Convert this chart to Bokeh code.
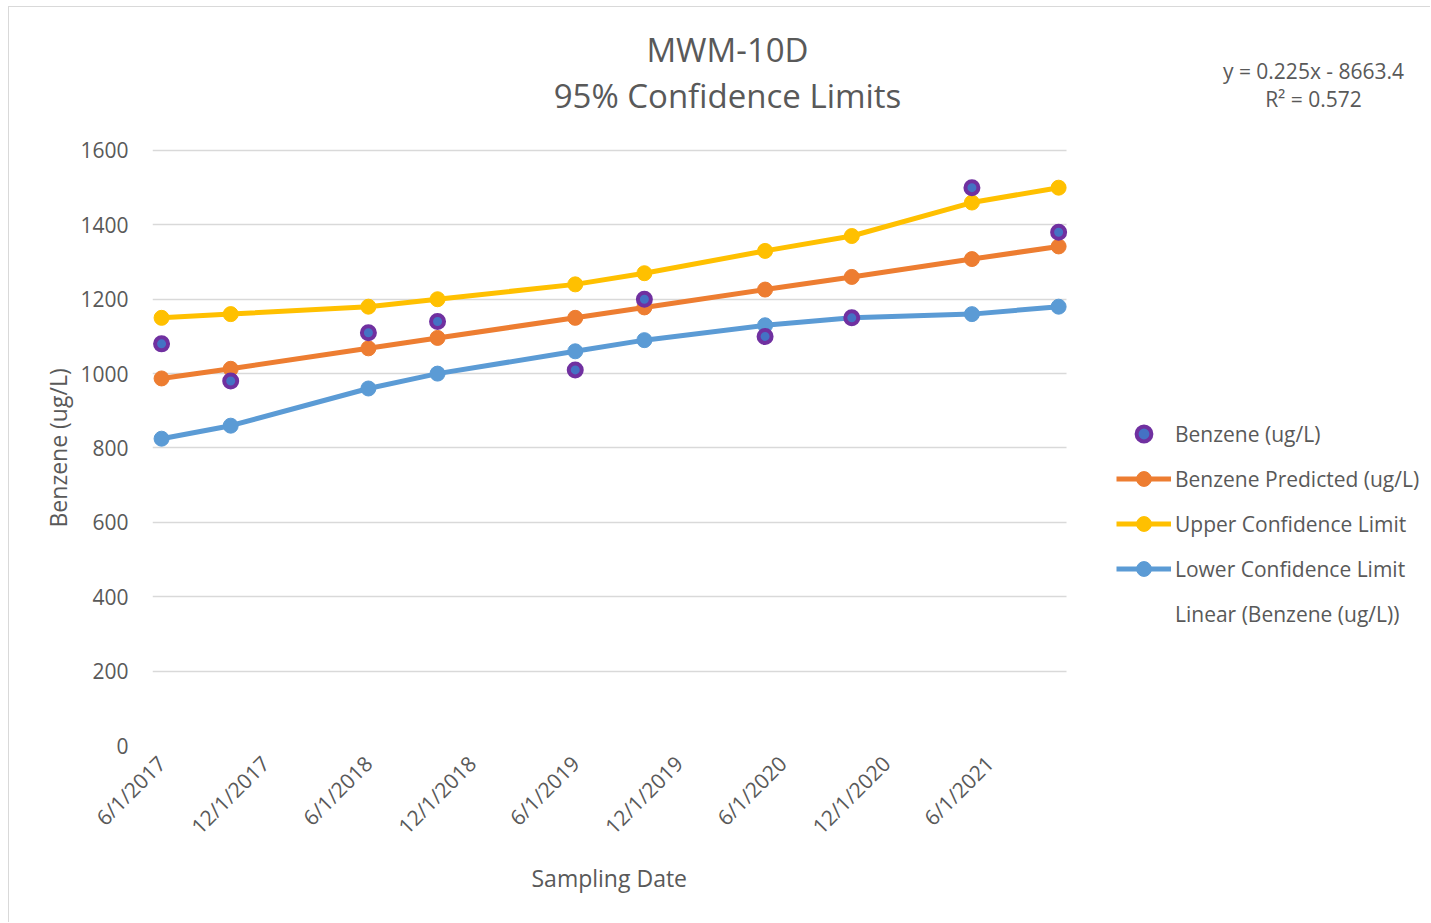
import pandas as pd
from math import pi
from bokeh.plotting import figure
from bokeh.models import (ColumnDataSource, Range1d, FixedTicker, Legend, LegendItem,
                          Label, Title)
from bokeh.embed import file_html
from bokeh.resources import INLINE

# ---------------- data ----------------
dates = ["2017-06-01", "2017-10-01", "2018-06-01", "2018-10-01", "2019-06-01",
         "2019-10-01", "2020-05-01", "2020-10-01", "2021-05-01", "2021-10-01"]
benzene = [1080, 980, 1110, 1140, 1010, 1200, 1100, 1150, 1500, 1380]
predicted = [987, 1013, 1068, 1096, 1150, 1178, 1226, 1260, 1308, 1342]
upper = [1150, 1160, 1180, 1200, 1240, 1270, 1330, 1370, 1460, 1500]
lower = [825, 860, 960, 1000, 1060, 1090, 1130, 1150, 1160, 1180]
tick_dates = ["2017-06-01", "2017-12-01", "2018-06-01", "2018-12-01", "2019-06-01",
              "2019-12-01", "2020-06-01", "2020-12-01", "2021-06-01"]
tick_labels = ["6/1/2017", "12/1/2017", "6/1/2018", "12/1/2018", "6/1/2019",
               "12/1/2019", "6/1/2020", "12/1/2020", "6/1/2021"]
y_ticks = [0, 200, 400, 600, 800, 1000, 1200, 1400, 1600]
trend_slope = 0.225
trend_intercept = -8663.4

EPOCH = pd.Timestamp("1899-12-30")


def serial(d):
    return float((pd.Timestamp(d) - EPOCH).days)


xs = [serial(d) for d in dates]
tx = [serial(d) for d in tick_dates]
src = ColumnDataSource(dict(x=xs, benzene=benzene, predicted=predicted,
                            upper=upper, lower=lower,
                            trend=[trend_slope * v + trend_intercept for v in xs]))

FONT = "Open Sans"
TXT = "#595959"
ORANGE = "#ED7D31"
YELLOW = "#FFC000"
BLUE = "#5B9BD5"

# plot-area extents (data units); the frame spans the whole right/top of the chart
x_lo, x_hi = xs[0] - 16, xs[0] + 1597
y_lo, y_hi = 0, 1600

p = figure(width=1422, height=916, output_backend="svg", toolbar_location=None,
           x_range=Range1d(x_lo, xs[0] + 2241), y_range=Range1d(y_lo, 1984.5),
           min_border_left=143, min_border_right=0, min_border_top=0,
           min_border_bottom=178)
p.styles = {"border-left": "1px solid #D9D9D9", "border-top": "1px solid #D9D9D9",
            "margin-left": "8px", "margin-top": "6px"}
p.outline_line_color = None
p.background_fill_color = "white"
p.border_fill_color = "white"

# axes
p.xaxis.ticker = FixedTicker(ticks=tx)
p.xaxis.major_label_overrides = {t: l for t, l in zip(tx, tick_labels)}
p.xaxis.major_label_orientation = pi / 4
p.xaxis.bounds = (x_lo, x_hi)
p.yaxis.ticker = FixedTicker(ticks=y_ticks)
p.yaxis.bounds = (y_lo, y_hi)
for ax in (p.xaxis, p.yaxis):
    ax.axis_line_color = None
    ax.major_tick_line_color = None
    ax.minor_tick_line_color = None
    ax.major_label_text_font = FONT
    ax.major_label_text_font_size = "21px"
    ax.major_label_text_color = TXT
p.yaxis.major_label_standoff = 18
p.xaxis.major_label_standoff = 8

# axis titles, centred on the plot area (not the whole frame)
xt = Title(text="Sampling Date", align="left", offset=379, standoff=14,
           text_font=FONT, text_font_size="23px", text_font_style="normal",
           text_color=TXT)
p.add_layout(xt, "below")
yt = Title(text="Benzene (ug/L)", align="left", offset=218, standoff=8,
           text_font=FONT, text_font_size="23px", text_font_style="normal",
           text_color=TXT)
p.add_layout(yt, "left")

p.xgrid.grid_line_color = None
p.ygrid.grid_line_color = "#D9D9D9"
p.ygrid.grid_line_width = 1.5
p.ygrid.cross_bounds = (x_lo, x_hi)

# series
r_trend = p.line("x", "trend", source=src, line_alpha=0, line_width=2)
r_list = {}
for col, color in (("predicted", ORANGE), ("upper", YELLOW), ("lower", BLUE)):
    l = p.line("x", col, source=src, line_color=color, line_width=5)
    m = p.scatter("x", col, source=src, marker="circle", size=15,
                  fill_color=color, line_color=color)
    r_list[col] = [l, m]
r_benz = p.scatter("x", "benzene", source=src, marker="circle", size=13,
                   fill_color="#4472C4", line_color="#7030A0", line_width=4)

items = [
    LegendItem(label="Benzene (ug/L)", renderers=[r_benz]),
    LegendItem(label="Benzene Predicted (ug/L)", renderers=r_list["predicted"]),
    LegendItem(label="Upper Confidence Limit", renderers=r_list["upper"]),
    LegendItem(label="Lower Confidence Limit", renderers=r_list["lower"]),
    LegendItem(label="Linear (Benzene (ug/L))", renderers=[r_trend]),
]
legend = Legend(items=items, location=(964, 113), glyph_width=55, glyph_height=37,
                label_height=37, spacing=8, padding=0, margin=0,
                label_standoff=4, border_line_color=None,
                background_fill_alpha=0, label_text_font=FONT,
                label_text_font_size="21px", label_text_color=TXT)
p.add_layout(legend, "center")

# title and equation (screen units relative to the plot frame)
t1 = Label(x=575, y=696, x_units="screen", y_units="screen", text="MWM-10D",
           text_font=FONT, text_font_size="33px", text_color=TXT,
           text_align="center", text_baseline="middle")
t2 = Label(x=575, y=650, x_units="screen", y_units="screen",
           text="95% Confidence Limits", text_font=FONT, text_font_size="33px",
           text_color=TXT, text_align="center", text_baseline="middle")
e1 = Label(x=1161, y=675, x_units="screen", y_units="screen",
           text="y = 0.225x - 8663.4", text_font=FONT, text_font_size="21px",
           text_color=TXT, text_align="center", text_baseline="middle")
e2 = Label(x=1161, y=647, x_units="screen", y_units="screen",
           text="R² = 0.572", text_font=FONT, text_font_size="21px",
           text_color=TXT, text_align="center", text_baseline="middle")
for lab in (t1, t2, e1, e2):
    p.add_layout(lab)

open("out.html", "w").write(file_html(p, INLINE))
